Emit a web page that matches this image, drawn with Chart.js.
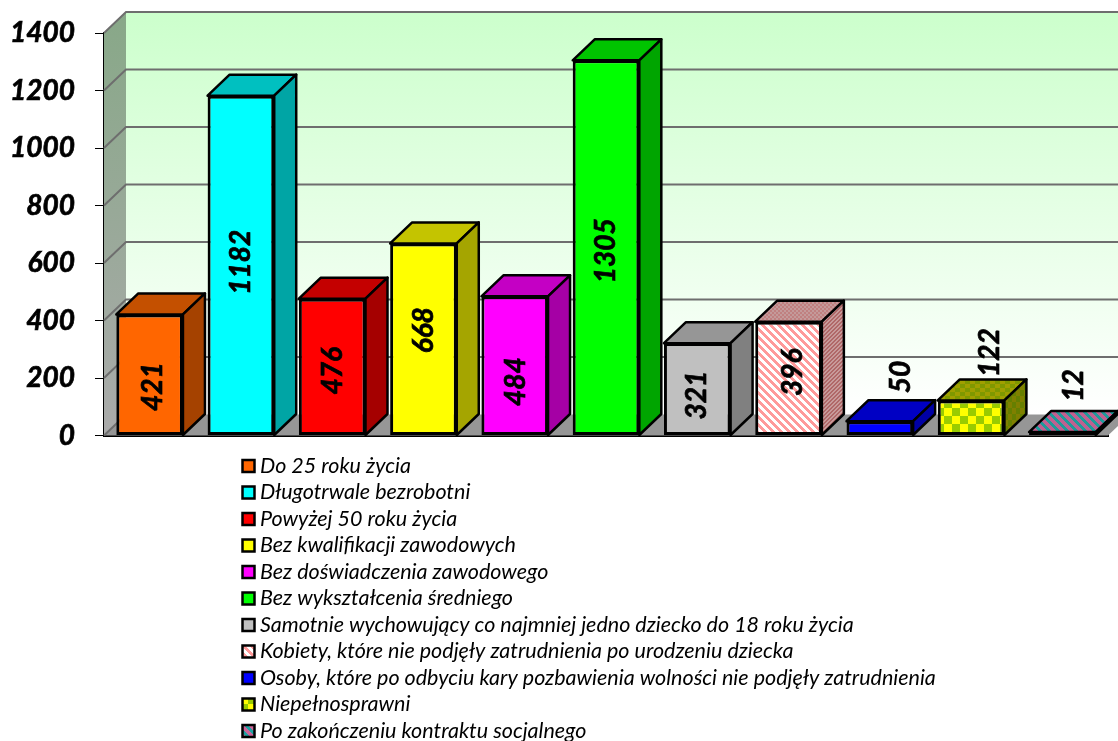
<!DOCTYPE html>
<html>
<head>
<meta charset="utf-8">
<title>Wykres</title>
<script src="https://cdn.jsdelivr.net/npm/chart.js@4/dist/chart.umd.min.js"></script>
<style>
    html, body { margin: 0; padding: 0; background: #fff; }
    canvas { display: block; }
</style>
</head>
<body>
<canvas id="chart" width="1118" height="741"></canvas>
<script>
//chart data
const categories = [
    "Do 25 roku życia",
    "Długotrwale bezrobotni",
    "Powyżej 50 roku życia",
    "Bez kwalifikacji zawodowych",
    "Bez doświadczenia zawodowego",
    "Bez wykształcenia średniego",
    "Samotnie wychowujący co najmniej jedno dziecko do 18 roku życia",
    "Kobiety, które nie podjęły zatrudnienia po urodzeniu dziecka",
    "Osoby, które po odbyciu kary pozbawienia wolności nie podjęły zatrudnienia",
    "Niepełnosprawni",
    "Po zakończeniu kontraktu socjalnego"
];
const values = [421, 1182, 476, 668, 484, 1305, 321, 396, 50, 122, 12];
const tickValues = [0, 200, 400, 600, 800, 1000, 1200, 1400];

//3D look
const depthX = 22;
const depthY = 21;
const fontName = "Lato";

//value label shift from the middle of the bar [x, y]
const labelShift = [[3, 12], [0, -3], [1, 4], [1, -9], [1, 16], [0, 3], [0, 6], [4, -6], [21, -51], [19, -65], [12, -48]];

//small repeating tiles for the hatched bars
function stripes(a, b, period, dir) {
    const tile = document.createElement('canvas');
    tile.width = period;
    tile.height = period;
    const c = tile.getContext('2d');
    for (let y = 0; y < period; y++) {
        for (let x = 0; x < period; x++) {
            const k = (x + dir * y + period * period) % period;
            c.fillStyle = k < period / 2 ? a : b;
            c.fillRect(x, y, 1, 1);
        }
    }
    return c.createPattern(tile, 'repeat');
}

function checks(a, b, w, h) {
    const tile = document.createElement('canvas');
    tile.width = w * 2;
    tile.height = h * 2;
    const c = tile.getContext('2d');
    c.fillStyle = a;
    c.fillRect(0, 0, w * 2, h * 2);
    c.fillStyle = b;
    c.fillRect(0, 0, w, h);
    c.fillRect(w, h, w, h);
    return c.createPattern(tile, 'repeat');
}

const frontColors = ["#ff6600", "#00ffff", "#ff0000", "#ffff00", "#ff00ff", "#00ff00", "#c0c0c0",
    stripes("#ffffff", "#ff9a9a", 8, -1), "#0000ff", checks("#ffff00", "#99cc00", 8, 8), stripes("#cc6699", "#1fa3a3", 9, -1)];
const topColors = ["#c45000", "#00c0c0", "#c40000", "#c4c400", "#c400c4", "#00c400", "#969696",
    checks("#c49a9a", "#c08080", 2, 2), "#0000c4", checks("#a0a000", "#7f9900", 5, 4), stripes("#c06090", "#1f9a9a", 9, -1)];
const sideColors = ["#a54200", "#00a5a5", "#a50000", "#a5a500", "#a500a5", "#00a500", "#808080",
    stripes("#c89a9a", "#b06868", 4, 1), "#0000a5", checks("#808000", "#667f00", 4, 6), "#3a3a3a"];

function poly(ctx, pts, fill) {
    ctx.beginPath();
    pts.forEach(function (p, i) {
        if (i === 0) { ctx.moveTo(p[0], p[1]); } else { ctx.lineTo(p[0], p[1]); }
    });
    ctx.closePath();
    ctx.fillStyle = fill;
    ctx.fill();
}

//walls, floor and the grid lines behind the bars
const wallsPlugin = {
    id: 'walls',
    beforeDatasetsDraw(chart) {
        const ctx = chart.ctx;
        const area = chart.chartArea;
        const y = chart.scales.y;
        const top = area.top, bottom = area.bottom, left = area.left, right = area.right;

        ctx.save();
        let grad = ctx.createLinearGradient(0, top - depthY, 0, bottom - depthY);
        grad.addColorStop(0, "#ccffcc");
        grad.addColorStop(1, "#ffffff");
        poly(ctx, [[left + depthX, top - depthY], [right + depthX, top - depthY], [right + depthX, bottom - depthY], [left + depthX, bottom - depthY]], grad);

        grad = ctx.createLinearGradient(0, top - depthY, 0, bottom);
        grad.addColorStop(0, "#88a888");
        grad.addColorStop(1, "#aaaaaa");
        poly(ctx, [[left, top], [left + depthX, top - depthY], [left + depthX, bottom - depthY], [left, bottom]], grad);

        poly(ctx, [[left, bottom], [left + depthX, bottom - depthY], [right + depthX, bottom - depthY], [right, bottom]], "#969696");

        ctx.strokeStyle = "#6e6e6e";
        ctx.lineWidth = 2;
        tickValues.forEach(function (v) {
            const py = y.getPixelForValue(v);
            ctx.beginPath();
            ctx.moveTo(left, py);
            ctx.lineTo(left + depthX, py - depthY);
            if (v > 0) { ctx.lineTo(right + depthX, py - depthY); }
            ctx.stroke();
        });

        //top and side of every bar
        chart.getDatasetMeta(0).data.forEach(function (bar, i) {
            const l = bar.x - bar.width / 2;
            const r = bar.x + bar.width / 2;
            const t = bar.y;
            const b = bar.base;
            ctx.strokeStyle = "#000000";
            ctx.lineWidth = 2.5;
            ctx.lineJoin = "round";
            poly(ctx, [[l, t], [l + depthX, t - depthY], [r + depthX, t - depthY], [r, t]], topColors[i]);
            ctx.stroke();
            poly(ctx, [[r, t], [r + depthX, t - depthY], [r + depthX, b - depthY], [r, b]], sideColors[i]);
            ctx.stroke();
        });
        ctx.restore();
    }
};

//rotated numbers on the bars
const valueLabelsPlugin = {
    id: 'valueLabels',
    afterDatasetsDraw(chart) {
        const ctx = chart.ctx;
        ctx.save();
        ctx.font = "italic bold 28px " + fontName;
        ctx.fillStyle = "#000000";
        ctx.strokeStyle = "#000000";
        ctx.lineWidth = 0.7;
        ctx.textAlign = "center";
        ctx.textBaseline = "middle";
        chart.getDatasetMeta(0).data.forEach(function (bar, i) {
            ctx.save();
            ctx.translate(bar.x + labelShift[i][0], (bar.y + bar.base) / 2 + labelShift[i][1]);
            ctx.rotate(-Math.PI / 2);
            ctx.strokeText(values[i], 0, 0);
            ctx.fillText(values[i], 0, 0);
            ctx.restore();
        });
        ctx.restore();
    }
};

//the list below the chart
const listLegendPlugin = {
    id: 'listLegend',
    afterDraw(chart) {
        const ctx = chart.ctx;
        const boxX = 242.5, textX = 260, firstY = 466, rowH = 26.5, boxSize = 12;
        ctx.save();
        ctx.font = "italic 21.5px " + fontName;
        ctx.textBaseline = "middle";
        categories.forEach(function (name, i) {
            const rowY = firstY + i * rowH;
            ctx.fillStyle = frontColors[i];
            ctx.fillRect(boxX, rowY - boxSize / 2, boxSize, boxSize);
            ctx.strokeStyle = "#000000";
            ctx.lineWidth = 2.5;
            ctx.strokeRect(boxX, rowY - boxSize / 2, boxSize, boxSize);
            ctx.fillStyle = "#000000";
            ctx.fillText(name, textX, rowY);
        });
        ctx.restore();
    }
};

new Chart(document.getElementById('chart'), {
    type: 'bar',
    data: {
        labels: categories,
        datasets: [{
            data: values,
            backgroundColor: frontColors,
            borderColor: "#000000",
            borderWidth: 3,
            borderSkipped: false,
            barPercentage: 0.73,
            categoryPercentage: 1
        }]
    },
    options: {
        responsive: false,
        animation: false,
        layout: { padding: { left: 0, top: 33, right: 10, bottom: 305.5 } },
        plugins: {
            legend: { display: false },
            tooltip: { enabled: false }
        },
        scales: {
            x: {
                grid: { display: false },
                border: { color: "#000000", width: 3 },
                ticks: { display: false },
                afterFit(scale) { scale.height = 0; }
            },
            y: {
                min: 0,
                max: 1400,
                afterFit(scale) {
                    scale.width = 104;
                    scale.paddingTop = 0;
                    scale.paddingBottom = 0;
                },
                afterBuildTicks(scale) { scale.ticks = tickValues.map(function (v) { return { value: v }; }); },
                grid: { drawOnChartArea: false, color: "#000000", tickLength: 9 },
                border: { color: "#000000", width: 3 },
                ticks: {
                    color: "#000000",
                    padding: 20,
                    textStrokeColor: "#000000",
                    textStrokeWidth: 0.7,
                    font: { family: fontName, size: 28, style: "italic", weight: "bold" },
                    callback: function (v) { return String(v); }
                }
            }
        }
    },
    plugins: [wallsPlugin, valueLabelsPlugin, listLegendPlugin]
});
</script>
</body>
</html>
